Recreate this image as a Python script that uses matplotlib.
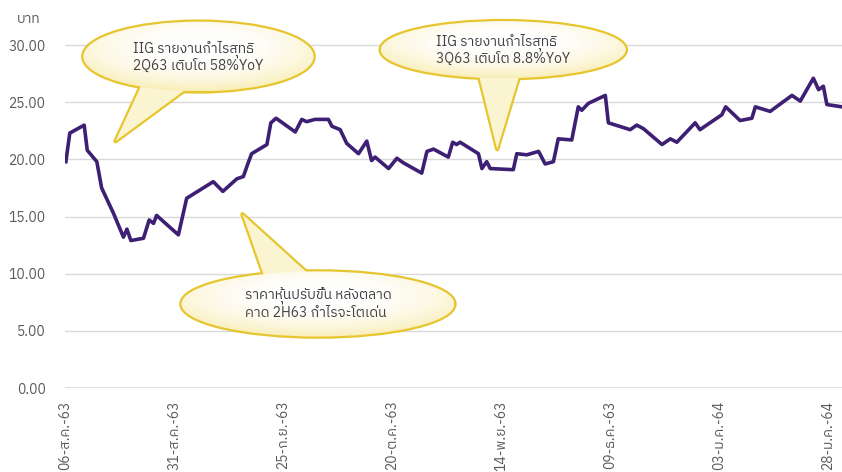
import numpy as np
import matplotlib
matplotlib.use("Agg")
import matplotlib.pyplot as plt
from matplotlib import font_manager
from matplotlib.colors import to_rgb
from matplotlib.patches import Ellipse, Polygon

# price series (days after 06-Aug-2020, Baht)
days = [0.2, 1.1, 4.4, 5.1, 7.3, 8.4, 11.1, 13.4, 14.2, 15.1, 18.0, 19.3, 20.3, 21.0,
        26.0, 27.9, 34.0, 36.2, 39.4, 40.9, 42.0, 42.8, 45.0, 46.3, 47.2, 48.4, 52.8,
        54.3, 55.4, 57.3, 60.4, 61.2, 63.1, 64.6, 67.3, 69.2, 70.3, 71.1, 74.2, 76.1,
        77.6, 81.8, 83.0, 84.5, 87.9, 88.9, 89.8, 90.6, 94.8, 95.6, 96.7, 97.5, 102.8,
        103.6, 105.9, 108.6, 110.1, 112.0, 113.1, 116.2, 117.7, 118.5, 120.0, 123.9,
        124.6, 129.6, 131.1, 132.6, 136.9, 138.8, 140.3, 144.5, 145.6, 150.6, 151.5,
        154.8, 157.5, 158.3, 161.7, 166.7, 168.6, 171.6, 172.8, 173.9, 174.7, 178.1]
price = [19.8, 22.3, 23.0, 20.8, 19.8, 17.5, 15.3, 13.2, 13.9, 12.9, 13.1, 14.7, 14.4, 15.1,
         13.4, 16.6, 18.05, 17.2, 18.3, 18.5, 19.7, 20.5, 21.0, 21.3, 23.2, 23.6, 22.4,
         23.5, 23.3, 23.5, 23.5, 22.9, 22.6, 21.4, 20.5, 21.6, 19.9, 20.2, 19.2, 20.1,
         19.7, 18.8, 20.7, 20.9, 20.2, 21.5, 21.3, 21.5, 20.5, 19.2, 19.8, 19.2, 19.1,
         20.5, 20.4, 20.7, 19.6, 19.8, 21.8, 21.7, 24.6, 24.3, 24.9, 25.6,
         23.2, 22.6, 23.0, 22.7, 21.3, 21.8, 21.5, 23.2, 22.6, 23.9, 24.6,
         23.4, 23.6, 24.6, 24.2, 25.6, 25.1, 27.1, 26.1, 26.4, 24.8, 24.6]

tick_days = [0, 25, 50, 75, 100, 125, 150, 175]
tick_labels = ["06-ส.ค.-63", "31-ส.ค.-63", "25-ก.ย.-63", "20-ต.ค.-63",
               "14-พ.ย.-63", "09-ธ.ค.-63", "03-ม.ค.-64", "28-ม.ค.-64"]
y_ticks = [0, 5, 10, 15, 20, 25, 30]

# callouts: text, ellipse centre/size, tail (base left, base right, tip)
notes = [
    ("IIG รายงานกำไรสุทธิ\n2Q63 เติบโต 58%YoY", (30.6, 29.0), (52.8, 6.1),
     [(17.9, 26.8), (28.7, 26.4), (11.6, 21.6)]),
    ("IIG รายงานกำไรสุทธิ\n3Q63 เติบโต 8.8%YoY", (100.5, 29.6), (56.2, 5.0),
     [(94.5, 28.0), (104.8, 28.1), (99.1, 20.9)]),
    ("ราคาหุ้นปรับขึ้น หลังตลาด\nคาด 2H63 กำไรจะโตเด่น", (58.0, 7.35), (62.6, 5.7),
     [(46.3, 9.1), (57.8, 9.3), (40.7, 15.2)]),
]

thai = [f.name for f in font_manager.fontManager.ttflist if "Thai" in f.name]
plt.rcParams["font.family"] = thai[:1] + ["DejaVu Sans"]

fig = plt.figure(figsize=(8.42, 4.72), dpi=100)
ax = fig.add_axes([65 / 842, 84 / 472, 778 / 842, 380 / 472])

ax.plot(days, price, color="#3d1f73", lw=2.6, zorder=3, solid_joinstyle="round")

ax.set_yticks(y_ticks)
ax.set_yticklabels([f"{v:.2f}" for v in y_ticks])
ax.set_xticks(tick_days)
ax.set_xticklabels(tick_labels, rotation=90)
ax.tick_params(axis="y", length=0, pad=14, labelsize=10, labelcolor="#595959")
ax.tick_params(axis="x", length=0, pad=9, labelsize=10, labelcolor="#595959")
for v in y_ticks[1:]:
    ax.axhline(v, color="#d9d9d9", lw=1, zorder=1)
ax.axhline(0, color="#d9d9d9", lw=2, zorder=1)
for s in ax.spines.values():
    s.set_visible(False)

fig.text(29 / 842, 1 - 19 / 472, "บาท", ha="center", va="center",
         fontsize=10, color="#595959")

# radial gradient for the bubble fill
n = 200
u, v = np.meshgrid(np.linspace(-1, 1, n), np.linspace(-1, 1, n))
r = np.clip(np.sqrt(u ** 2 + (v - 0.25) ** 2) / 1.25, 0, 1) ** 2.5
c0, c1 = np.array(to_rgb("#ffffff")), np.array(to_rgb("#f9eeb8"))
grad = c0 * (1 - r[..., None]) + c1 * r[..., None]

edge = "#e6c52e"
for text, (cx, cy), (w, h), tail in notes:
    ax.add_patch(Ellipse((cx, cy), w, h, fill=False, ec=edge, lw=3.2, zorder=5))
    ax.add_patch(Polygon(tail, closed=True, fill=False, ec=edge, lw=3.2,
                         joinstyle="round", zorder=5))
    ax.add_patch(Polygon(tail, closed=True, fc="#fbf4d0", ec="none", zorder=6))
    clip = Ellipse((cx, cy), w, h, fc="none", ec="none", transform=ax.transData)
    ax.add_patch(clip)
    im = ax.imshow(grad, extent=(cx - w / 2, cx + w / 2, cy - h / 2, cy + h / 2),
                   origin="lower", aspect="auto", zorder=6, interpolation="bilinear")
    im.set_clip_path(clip)
    ax.text(cx, cy, text, ha="center", va="center", multialignment="left",
            fontsize=10, color="#404048", linespacing=1.1, zorder=7)

ax.set_xlim(0, 178.4)
ax.set_ylim(0, 380 / 11.43)

fig.savefig("out.png", dpi=100)
